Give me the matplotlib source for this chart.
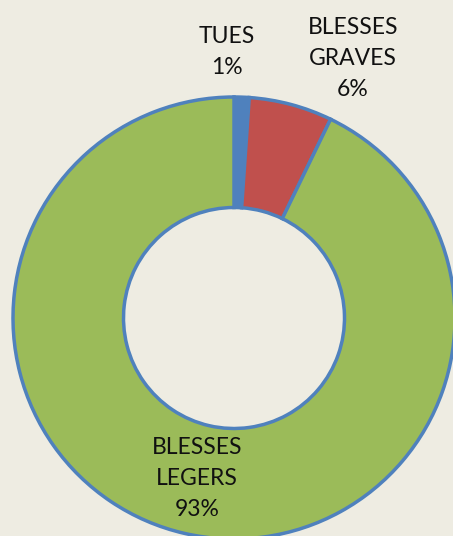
import matplotlib
matplotlib.use('Agg')
import matplotlib.pyplot as plt

# donnees
categories = ['TUES', 'BLESSES\nGRAVES', 'BLESSES\nLEGERS']
values = [1.1, 6.1, 92.8]
colors = ['#4F81BD', '#C0504D', '#9BBB59']
# position des etiquettes (centre du texte, unites du rayon)
label_pos = [(-0.032, 1.204), (0.538, 1.174), (-0.167, -0.726)]

bg = '#EEECE2'

fig = plt.figure(figsize=(4.53, 5.36), dpi=100)
fig.patch.set_facecolor(bg)
ax = fig.add_axes([0, 0, 1, 1])
ax.set_facecolor(bg)

ax.pie(values, colors=colors, startangle=90, counterclock=False, radius=1,
       wedgeprops=dict(width=0.5, edgecolor='#4F81BD', linewidth=2.5))

total = sum(values)
for cat, v, (x, y) in zip(categories, values, label_pos):
    txt = f'{cat}\n{round(v / total * 100):.0f}%'
    ax.text(x, y, txt, ha='center', va='center', fontsize=16.5,
            family='Lato', linespacing=1.6, color='#111111')

# 1 unite = 221 px, centre en (234, 318)
r = 221
ax.set_xlim(-234 / r, (453 - 234) / r)
ax.set_ylim(-(536 - 318) / r, 318 / r)
ax.set_aspect('auto')
ax.axis('off')

fig.savefig('out.png', dpi=100, facecolor=bg)
